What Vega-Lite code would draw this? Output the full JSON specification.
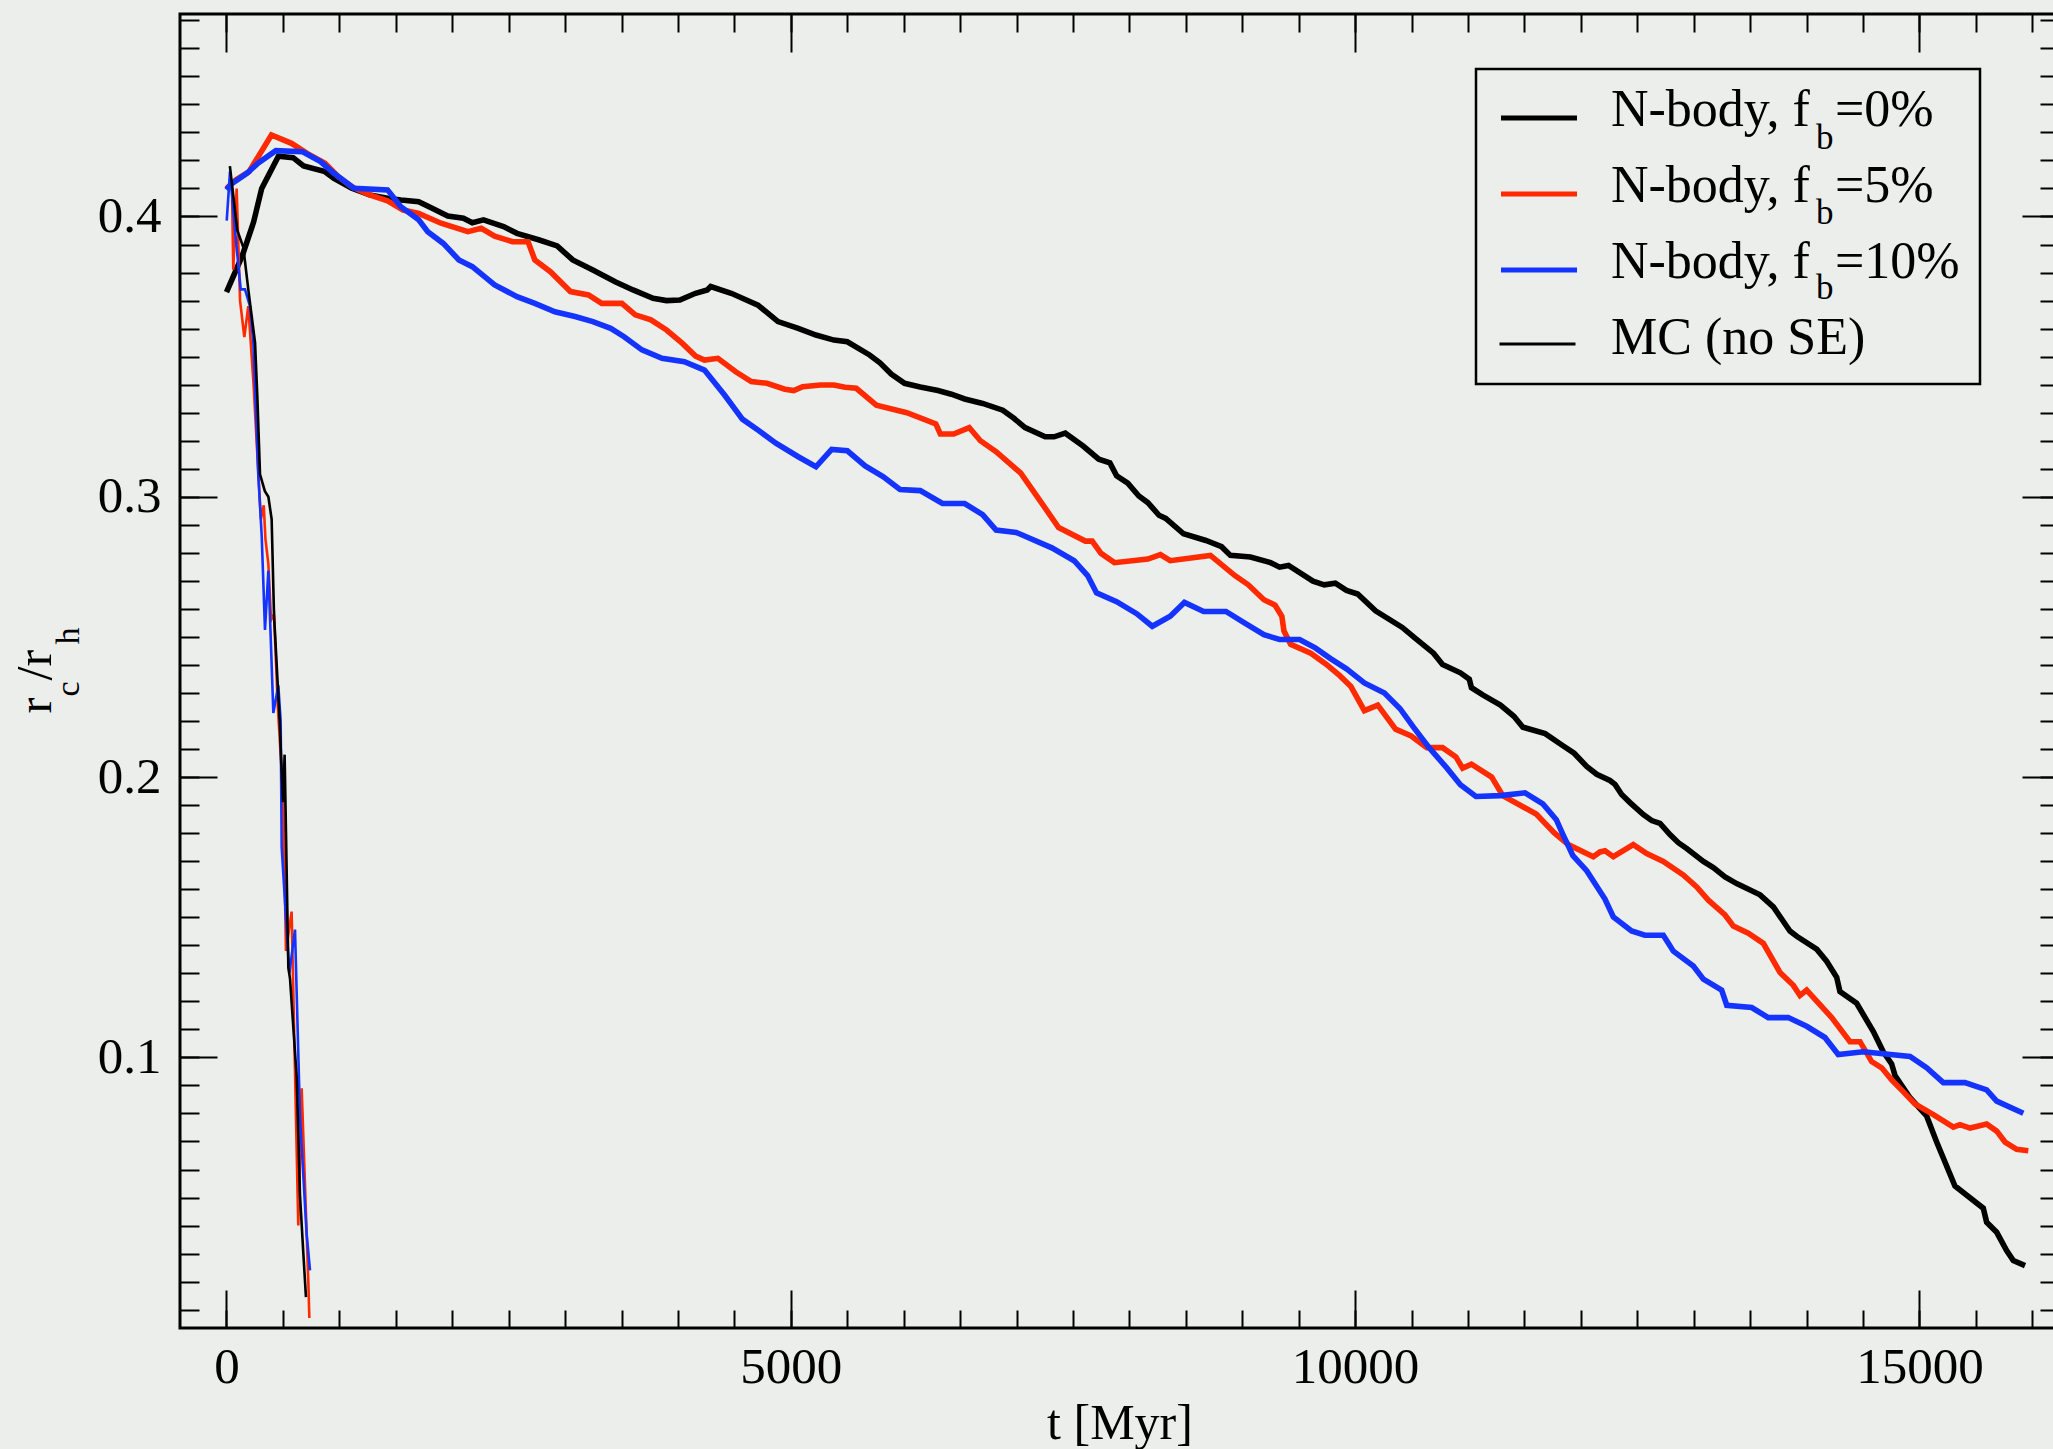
{
  "$schema": "https://vega.github.io/schema/vega-lite/v6.json",
  "width": 1879,
  "height": 1314,
  "autosize": {"type": "none"},
  "padding": {"left": 180, "top": 14, "right": -6, "bottom": 121},
  "background": "#eceeeb",
  "config": {
    "view": {"stroke": "#000000", "strokeWidth": 3},
    "font": "Liberation Serif",
    "axis": {
      "domain": false,
      "grid": false,
      "tickColor": "#000000",
      "tickWidth": 2,
      "labelFont": "Liberation Serif",
      "labelColor": "#000000",
      "titleFont": "Liberation Serif",
      "titleFontWeight": "normal",
      "titleColor": "#000000"
    },
    "legend": {
      "strokeWidth": 2.5,
      "labelFont": "Liberation Serif",
      "labelColor": "#000000",
      "labelLimit": 2000,
      "direction": "vertical"
    }
  },
  "datasets": {
    "runs": [
      {"run": "nb0", "t": 0, "r": 0.373}, {"run": "nb0", "t": 140, "r": 0.386}, {"run": "nb0", "t": 240, "r": 0.398}, {"run": "nb0", "t": 312, "r": 0.41}, {"run": "nb0", "t": 460, "r": 0.4215}, {"run": "nb0", "t": 590, "r": 0.421}, {"run": "nb0", "t": 683, "r": 0.418}, {"run": "nb0", "t": 873, "r": 0.416}, {"run": "nb0", "t": 952, "r": 0.4136}, {"run": "nb0", "t": 1110, "r": 0.4101}, {"run": "nb0", "t": 1268, "r": 0.4077}, {"run": "nb0", "t": 1427, "r": 0.4065}, {"run": "nb0", "t": 1545, "r": 0.4059}, {"run": "nb0", "t": 1703, "r": 0.4053}, {"run": "nb0", "t": 1822, "r": 0.4029}, {"run": "nb0", "t": 1961, "r": 0.4002}, {"run": "nb0", "t": 2099, "r": 0.3994}, {"run": "nb0", "t": 2178, "r": 0.3978}, {"run": "nb0", "t": 2277, "r": 0.3988}, {"run": "nb0", "t": 2455, "r": 0.3964}, {"run": "nb0", "t": 2574, "r": 0.394}, {"run": "nb0", "t": 2772, "r": 0.3916}, {"run": "nb0", "t": 2930, "r": 0.3895}, {"run": "nb0", "t": 3068, "r": 0.3845}, {"run": "nb0", "t": 3246, "r": 0.3809}, {"run": "nb0", "t": 3444, "r": 0.3767}, {"run": "nb0", "t": 3602, "r": 0.3738}, {"run": "nb0", "t": 3780, "r": 0.3708}, {"run": "nb0", "t": 3899, "r": 0.37}, {"run": "nb0", "t": 4017, "r": 0.3702}, {"run": "nb0", "t": 4156, "r": 0.3726}, {"run": "nb0", "t": 4260, "r": 0.3738}, {"run": "nb0", "t": 4290, "r": 0.375}, {"run": "nb0", "t": 4472, "r": 0.3726}, {"run": "nb0", "t": 4709, "r": 0.3684}, {"run": "nb0", "t": 4887, "r": 0.3625}, {"run": "nb0", "t": 5066, "r": 0.3601}, {"run": "nb0", "t": 5223, "r": 0.3577}, {"run": "nb0", "t": 5382, "r": 0.3559}, {"run": "nb0", "t": 5501, "r": 0.3553}, {"run": "nb0", "t": 5698, "r": 0.3506}, {"run": "nb0", "t": 5790, "r": 0.3478}, {"run": "nb0", "t": 5890, "r": 0.3438}, {"run": "nb0", "t": 6008, "r": 0.3405}, {"run": "nb0", "t": 6147, "r": 0.3392}, {"run": "nb0", "t": 6304, "r": 0.3379}, {"run": "nb0", "t": 6423, "r": 0.3366}, {"run": "nb0", "t": 6541, "r": 0.3349}, {"run": "nb0", "t": 6700, "r": 0.3333}, {"run": "nb0", "t": 6878, "r": 0.3309}, {"run": "nb0", "t": 6977, "r": 0.328}, {"run": "nb0", "t": 7076, "r": 0.3247}, {"run": "nb0", "t": 7254, "r": 0.3214}, {"run": "nb0", "t": 7333, "r": 0.3214}, {"run": "nb0", "t": 7432, "r": 0.3227}, {"run": "nb0", "t": 7590, "r": 0.3181}, {"run": "nb0", "t": 7729, "r": 0.3134}, {"run": "nb0", "t": 7827, "r": 0.3121}, {"run": "nb0", "t": 7887, "r": 0.3075}, {"run": "nb0", "t": 7986, "r": 0.3049}, {"run": "nb0", "t": 8084, "r": 0.3003}, {"run": "nb0", "t": 8164, "r": 0.2979}, {"run": "nb0", "t": 8263, "r": 0.2934}, {"run": "nb0", "t": 8322, "r": 0.2923}, {"run": "nb0", "t": 8480, "r": 0.2868}, {"run": "nb0", "t": 8678, "r": 0.2844}, {"run": "nb0", "t": 8817, "r": 0.2822}, {"run": "nb0", "t": 8895, "r": 0.2791}, {"run": "nb0", "t": 9073, "r": 0.2785}, {"run": "nb0", "t": 9251, "r": 0.2765}, {"run": "nb0", "t": 9331, "r": 0.2749}, {"run": "nb0", "t": 9410, "r": 0.2755}, {"run": "nb0", "t": 9627, "r": 0.2699}, {"run": "nb0", "t": 9726, "r": 0.2686}, {"run": "nb0", "t": 9825, "r": 0.2692}, {"run": "nb0", "t": 9924, "r": 0.2666}, {"run": "nb0", "t": 10023, "r": 0.2653}, {"run": "nb0", "t": 10181, "r": 0.2593}, {"run": "nb0", "t": 10418, "r": 0.2534}, {"run": "nb0", "t": 10537, "r": 0.2494}, {"run": "nb0", "t": 10695, "r": 0.2442}, {"run": "nb0", "t": 10775, "r": 0.2402}, {"run": "nb0", "t": 10933, "r": 0.2372}, {"run": "nb0", "t": 11012, "r": 0.2349}, {"run": "nb0", "t": 11031, "r": 0.2319}, {"run": "nb0", "t": 11131, "r": 0.2293}, {"run": "nb0", "t": 11288, "r": 0.2257}, {"run": "nb0", "t": 11407, "r": 0.2217}, {"run": "nb0", "t": 11487, "r": 0.2178}, {"run": "nb0", "t": 11684, "r": 0.2155}, {"run": "nb0", "t": 11842, "r": 0.2112}, {"run": "nb0", "t": 11941, "r": 0.2085}, {"run": "nb0", "t": 12052, "r": 0.2038}, {"run": "nb0", "t": 12141, "r": 0.201}, {"run": "nb0", "t": 12258, "r": 0.1988}, {"run": "nb0", "t": 12303, "r": 0.1974}, {"run": "nb0", "t": 12362, "r": 0.1938}, {"run": "nb0", "t": 12436, "r": 0.1909}, {"run": "nb0", "t": 12554, "r": 0.1866}, {"run": "nb0", "t": 12628, "r": 0.1845}, {"run": "nb0", "t": 12702, "r": 0.1835}, {"run": "nb0", "t": 12790, "r": 0.1795}, {"run": "nb0", "t": 12864, "r": 0.1766}, {"run": "nb0", "t": 12938, "r": 0.1745}, {"run": "nb0", "t": 13086, "r": 0.1699}, {"run": "nb0", "t": 13174, "r": 0.1677}, {"run": "nb0", "t": 13278, "r": 0.1644}, {"run": "nb0", "t": 13381, "r": 0.162}, {"run": "nb0", "t": 13588, "r": 0.158}, {"run": "nb0", "t": 13706, "r": 0.1537}, {"run": "nb0", "t": 13853, "r": 0.1451}, {"run": "nb0", "t": 13913, "r": 0.1432}, {"run": "nb0", "t": 14090, "r": 0.1386}, {"run": "nb0", "t": 14178, "r": 0.1343}, {"run": "nb0", "t": 14267, "r": 0.1286}, {"run": "nb0", "t": 14296, "r": 0.1235}, {"run": "nb0", "t": 14444, "r": 0.1193}, {"run": "nb0", "t": 14592, "r": 0.1092}, {"run": "nb0", "t": 14680, "r": 0.102}, {"run": "nb0", "t": 14754, "r": 0.0977}, {"run": "nb0", "t": 14784, "r": 0.0935}, {"run": "nb0", "t": 14917, "r": 0.0856}, {"run": "nb0", "t": 15064, "r": 0.0791}, {"run": "nb0", "t": 15153, "r": 0.0698}, {"run": "nb0", "t": 15315, "r": 0.0541}, {"run": "nb0", "t": 15566, "r": 0.0462}, {"run": "nb0", "t": 15596, "r": 0.0412}, {"run": "nb0", "t": 15685, "r": 0.0376}, {"run": "nb0", "t": 15773, "r": 0.0311}, {"run": "nb0", "t": 15832, "r": 0.0275}, {"run": "nb0", "t": 15936, "r": 0.0257},

      {"run": "nb5", "t": 0, "r": 0.41}, {"run": "nb5", "t": 82, "r": 0.413}, {"run": "nb5", "t": 200, "r": 0.416}, {"run": "nb5", "t": 398, "r": 0.4291}, {"run": "nb5", "t": 576, "r": 0.4261}, {"run": "nb5", "t": 714, "r": 0.4225}, {"run": "nb5", "t": 873, "r": 0.419}, {"run": "nb5", "t": 991, "r": 0.4142}, {"run": "nb5", "t": 1110, "r": 0.4106}, {"run": "nb5", "t": 1268, "r": 0.4077}, {"run": "nb5", "t": 1427, "r": 0.4056}, {"run": "nb5", "t": 1565, "r": 0.4023}, {"run": "nb5", "t": 1703, "r": 0.4011}, {"run": "nb5", "t": 1901, "r": 0.3976}, {"run": "nb5", "t": 2139, "r": 0.3946}, {"run": "nb5", "t": 2257, "r": 0.3958}, {"run": "nb5", "t": 2376, "r": 0.393}, {"run": "nb5", "t": 2534, "r": 0.391}, {"run": "nb5", "t": 2672, "r": 0.391}, {"run": "nb5", "t": 2732, "r": 0.3845}, {"run": "nb5", "t": 2870, "r": 0.3803}, {"run": "nb5", "t": 3048, "r": 0.3732}, {"run": "nb5", "t": 3207, "r": 0.372}, {"run": "nb5", "t": 3325, "r": 0.369}, {"run": "nb5", "t": 3503, "r": 0.369}, {"run": "nb5", "t": 3622, "r": 0.3649}, {"run": "nb5", "t": 3760, "r": 0.3631}, {"run": "nb5", "t": 3899, "r": 0.3595}, {"run": "nb5", "t": 4037, "r": 0.3548}, {"run": "nb5", "t": 4156, "r": 0.3502}, {"run": "nb5", "t": 4235, "r": 0.3488}, {"run": "nb5", "t": 4354, "r": 0.3494}, {"run": "nb5", "t": 4512, "r": 0.3446}, {"run": "nb5", "t": 4650, "r": 0.3411}, {"run": "nb5", "t": 4789, "r": 0.3405}, {"run": "nb5", "t": 4947, "r": 0.3384}, {"run": "nb5", "t": 5026, "r": 0.3379}, {"run": "nb5", "t": 5105, "r": 0.3393}, {"run": "nb5", "t": 5263, "r": 0.3399}, {"run": "nb5", "t": 5382, "r": 0.3399}, {"run": "nb5", "t": 5481, "r": 0.3391}, {"run": "nb5", "t": 5580, "r": 0.3387}, {"run": "nb5", "t": 5758, "r": 0.3327}, {"run": "nb5", "t": 6028, "r": 0.33}, {"run": "nb5", "t": 6285, "r": 0.326}, {"run": "nb5", "t": 6325, "r": 0.3224}, {"run": "nb5", "t": 6443, "r": 0.3224}, {"run": "nb5", "t": 6581, "r": 0.3247}, {"run": "nb5", "t": 6680, "r": 0.32}, {"run": "nb5", "t": 6819, "r": 0.3161}, {"run": "nb5", "t": 7036, "r": 0.3085}, {"run": "nb5", "t": 7214, "r": 0.2983}, {"run": "nb5", "t": 7373, "r": 0.289}, {"run": "nb5", "t": 7610, "r": 0.2842}, {"run": "nb5", "t": 7670, "r": 0.2842}, {"run": "nb5", "t": 7749, "r": 0.2798}, {"run": "nb5", "t": 7867, "r": 0.2765}, {"run": "nb5", "t": 8164, "r": 0.2778}, {"run": "nb5", "t": 8275, "r": 0.2794}, {"run": "nb5", "t": 8362, "r": 0.2772}, {"run": "nb5", "t": 8718, "r": 0.2791}, {"run": "nb5", "t": 8935, "r": 0.2719}, {"run": "nb5", "t": 9054, "r": 0.2686}, {"run": "nb5", "t": 9192, "r": 0.2633}, {"run": "nb5", "t": 9291, "r": 0.2613}, {"run": "nb5", "t": 9351, "r": 0.2574}, {"run": "nb5", "t": 9370, "r": 0.2521}, {"run": "nb5", "t": 9429, "r": 0.2474}, {"run": "nb5", "t": 9607, "r": 0.2442}, {"run": "nb5", "t": 9746, "r": 0.2402}, {"run": "nb5", "t": 9864, "r": 0.2362}, {"run": "nb5", "t": 9963, "r": 0.2323}, {"run": "nb5", "t": 10082, "r": 0.2237}, {"run": "nb5", "t": 10201, "r": 0.2257}, {"run": "nb5", "t": 10359, "r": 0.2171}, {"run": "nb5", "t": 10497, "r": 0.2147}, {"run": "nb5", "t": 10636, "r": 0.2105}, {"run": "nb5", "t": 10775, "r": 0.2105}, {"run": "nb5", "t": 10893, "r": 0.2072}, {"run": "nb5", "t": 10953, "r": 0.2032}, {"run": "nb5", "t": 11031, "r": 0.2046}, {"run": "nb5", "t": 11210, "r": 0.2}, {"run": "nb5", "t": 11309, "r": 0.1934}, {"run": "nb5", "t": 11487, "r": 0.1894}, {"run": "nb5", "t": 11605, "r": 0.1868}, {"run": "nb5", "t": 11763, "r": 0.1802}, {"run": "nb5", "t": 11889, "r": 0.1759}, {"run": "nb5", "t": 12111, "r": 0.1716}, {"run": "nb5", "t": 12170, "r": 0.1733}, {"run": "nb5", "t": 12214, "r": 0.1737}, {"run": "nb5", "t": 12288, "r": 0.1716}, {"run": "nb5", "t": 12465, "r": 0.1759}, {"run": "nb5", "t": 12584, "r": 0.1727}, {"run": "nb5", "t": 12731, "r": 0.1699}, {"run": "nb5", "t": 12908, "r": 0.1651}, {"run": "nb5", "t": 13027, "r": 0.1608}, {"run": "nb5", "t": 13130, "r": 0.1561}, {"run": "nb5", "t": 13278, "r": 0.1508}, {"run": "nb5", "t": 13351, "r": 0.1469}, {"run": "nb5", "t": 13484, "r": 0.1443}, {"run": "nb5", "t": 13617, "r": 0.1407}, {"run": "nb5", "t": 13765, "r": 0.1303}, {"run": "nb5", "t": 13883, "r": 0.1257}, {"run": "nb5", "t": 13942, "r": 0.1221}, {"run": "nb5", "t": 14001, "r": 0.124}, {"run": "nb5", "t": 14223, "r": 0.1142}, {"run": "nb5", "t": 14385, "r": 0.1056}, {"run": "nb5", "t": 14474, "r": 0.1056}, {"run": "nb5", "t": 14577, "r": 0.0985}, {"run": "nb5", "t": 14666, "r": 0.0963}, {"run": "nb5", "t": 14754, "r": 0.092}, {"run": "nb5", "t": 14858, "r": 0.0877}, {"run": "nb5", "t": 14961, "r": 0.0834}, {"run": "nb5", "t": 15124, "r": 0.0796}, {"run": "nb5", "t": 15301, "r": 0.0751}, {"run": "nb5", "t": 15360, "r": 0.076}, {"run": "nb5", "t": 15449, "r": 0.0748}, {"run": "nb5", "t": 15596, "r": 0.0762}, {"run": "nb5", "t": 15685, "r": 0.0737}, {"run": "nb5", "t": 15759, "r": 0.0698}, {"run": "nb5", "t": 15862, "r": 0.0672}, {"run": "nb5", "t": 15965, "r": 0.0667},

      {"run": "nb10", "t": 0, "r": 0.4095}, {"run": "nb10", "t": 42, "r": 0.4116}, {"run": "nb10", "t": 181, "r": 0.4154}, {"run": "nb10", "t": 279, "r": 0.419}, {"run": "nb10", "t": 437, "r": 0.4235}, {"run": "nb10", "t": 675, "r": 0.4231}, {"run": "nb10", "t": 833, "r": 0.4196}, {"run": "nb10", "t": 952, "r": 0.4154}, {"run": "nb10", "t": 1130, "r": 0.4101}, {"run": "nb10", "t": 1427, "r": 0.4095}, {"run": "nb10", "t": 1545, "r": 0.4035}, {"run": "nb10", "t": 1703, "r": 0.3988}, {"run": "nb10", "t": 1783, "r": 0.3946}, {"run": "nb10", "t": 1921, "r": 0.3904}, {"run": "nb10", "t": 2059, "r": 0.3845}, {"run": "nb10", "t": 2178, "r": 0.3821}, {"run": "nb10", "t": 2376, "r": 0.3756}, {"run": "nb10", "t": 2574, "r": 0.3714}, {"run": "nb10", "t": 2732, "r": 0.369}, {"run": "nb10", "t": 2910, "r": 0.366}, {"run": "nb10", "t": 3088, "r": 0.3643}, {"run": "nb10", "t": 3246, "r": 0.3625}, {"run": "nb10", "t": 3404, "r": 0.3601}, {"run": "nb10", "t": 3523, "r": 0.3571}, {"run": "nb10", "t": 3681, "r": 0.3524}, {"run": "nb10", "t": 3859, "r": 0.3494}, {"run": "nb10", "t": 4057, "r": 0.3482}, {"run": "nb10", "t": 4235, "r": 0.3452}, {"run": "nb10", "t": 4413, "r": 0.3363}, {"run": "nb10", "t": 4571, "r": 0.3277}, {"run": "nb10", "t": 4709, "r": 0.3238}, {"run": "nb10", "t": 4868, "r": 0.3191}, {"run": "nb10", "t": 5066, "r": 0.3143}, {"run": "nb10", "t": 5223, "r": 0.3107}, {"run": "nb10", "t": 5362, "r": 0.3169}, {"run": "nb10", "t": 5501, "r": 0.3164}, {"run": "nb10", "t": 5659, "r": 0.311}, {"run": "nb10", "t": 5817, "r": 0.3072}, {"run": "nb10", "t": 5968, "r": 0.3026}, {"run": "nb10", "t": 6147, "r": 0.3022}, {"run": "nb10", "t": 6344, "r": 0.2976}, {"run": "nb10", "t": 6541, "r": 0.2976}, {"run": "nb10", "t": 6700, "r": 0.2936}, {"run": "nb10", "t": 6819, "r": 0.2881}, {"run": "nb10", "t": 6997, "r": 0.2873}, {"run": "nb10", "t": 7313, "r": 0.2818}, {"run": "nb10", "t": 7511, "r": 0.2772}, {"run": "nb10", "t": 7630, "r": 0.2719}, {"run": "nb10", "t": 7709, "r": 0.2657}, {"run": "nb10", "t": 7887, "r": 0.2626}, {"run": "nb10", "t": 8065, "r": 0.2583}, {"run": "nb10", "t": 8203, "r": 0.2538}, {"run": "nb10", "t": 8362, "r": 0.2574}, {"run": "nb10", "t": 8488, "r": 0.2623}, {"run": "nb10", "t": 8658, "r": 0.2591}, {"run": "nb10", "t": 8856, "r": 0.2591}, {"run": "nb10", "t": 9034, "r": 0.2547}, {"run": "nb10", "t": 9192, "r": 0.2508}, {"run": "nb10", "t": 9331, "r": 0.2491}, {"run": "nb10", "t": 9508, "r": 0.2491}, {"run": "nb10", "t": 9647, "r": 0.2461}, {"run": "nb10", "t": 9786, "r": 0.2422}, {"run": "nb10", "t": 9924, "r": 0.2386}, {"run": "nb10", "t": 10082, "r": 0.2336}, {"run": "nb10", "t": 10260, "r": 0.23}, {"run": "nb10", "t": 10399, "r": 0.2244}, {"run": "nb10", "t": 10517, "r": 0.2178}, {"run": "nb10", "t": 10656, "r": 0.2105}, {"run": "nb10", "t": 10814, "r": 0.2032}, {"run": "nb10", "t": 10933, "r": 0.1973}, {"run": "nb10", "t": 11071, "r": 0.1931}, {"run": "nb10", "t": 11288, "r": 0.1934}, {"run": "nb10", "t": 11506, "r": 0.1944}, {"run": "nb10", "t": 11664, "r": 0.1904}, {"run": "nb10", "t": 11783, "r": 0.1848}, {"run": "nb10", "t": 11842, "r": 0.1795}, {"run": "nb10", "t": 11930, "r": 0.172}, {"run": "nb10", "t": 12052, "r": 0.1666}, {"run": "nb10", "t": 12214, "r": 0.1565}, {"run": "nb10", "t": 12288, "r": 0.1501}, {"run": "nb10", "t": 12450, "r": 0.1451}, {"run": "nb10", "t": 12568, "r": 0.1436}, {"run": "nb10", "t": 12731, "r": 0.1436}, {"run": "nb10", "t": 12820, "r": 0.1379}, {"run": "nb10", "t": 12997, "r": 0.1326}, {"run": "nb10", "t": 13086, "r": 0.1279}, {"run": "nb10", "t": 13248, "r": 0.124}, {"run": "nb10", "t": 13293, "r": 0.1186}, {"run": "nb10", "t": 13514, "r": 0.1178}, {"run": "nb10", "t": 13661, "r": 0.1142}, {"run": "nb10", "t": 13838, "r": 0.1142}, {"run": "nb10", "t": 14001, "r": 0.1111}, {"run": "nb10", "t": 14163, "r": 0.1071}, {"run": "nb10", "t": 14281, "r": 0.101}, {"run": "nb10", "t": 14503, "r": 0.102}, {"run": "nb10", "t": 14917, "r": 0.1003}, {"run": "nb10", "t": 15064, "r": 0.0963}, {"run": "nb10", "t": 15212, "r": 0.091}, {"run": "nb10", "t": 15404, "r": 0.091}, {"run": "nb10", "t": 15596, "r": 0.0884}, {"run": "nb10", "t": 15685, "r": 0.0844}, {"run": "nb10", "t": 15921, "r": 0.0801},

      {"run": "mc5", "t": 50, "r": 0.406}, {"run": "mc5", "t": 60, "r": 0.381}, {"run": "mc5", "t": 90, "r": 0.41}, {"run": "mc5", "t": 120, "r": 0.37}, {"run": "mc5", "t": 158, "r": 0.357}, {"run": "mc5", "t": 193, "r": 0.368}, {"run": "mc5", "t": 240, "r": 0.34}, {"run": "mc5", "t": 280, "r": 0.31}, {"run": "mc5", "t": 305, "r": 0.292}, {"run": "mc5", "t": 330, "r": 0.297}, {"run": "mc5", "t": 345, "r": 0.285}, {"run": "mc5", "t": 371, "r": 0.276}, {"run": "mc5", "t": 395, "r": 0.256}, {"run": "mc5", "t": 421, "r": 0.258}, {"run": "mc5", "t": 455, "r": 0.225}, {"run": "mc5", "t": 503, "r": 0.192}, {"run": "mc5", "t": 527, "r": 0.138}, {"run": "mc5", "t": 577, "r": 0.152}, {"run": "mc5", "t": 636, "r": 0.04}, {"run": "mc5", "t": 666, "r": 0.089}, {"run": "mc5", "t": 725, "r": 0.02}, {"run": "mc5", "t": 734, "r": 0.007},

      {"run": "mc10", "t": 2, "r": 0.3985}, {"run": "mc10", "t": 31, "r": 0.416}, {"run": "mc10", "t": 75, "r": 0.395}, {"run": "mc10", "t": 126, "r": 0.374}, {"run": "mc10", "t": 164, "r": 0.374}, {"run": "mc10", "t": 208, "r": 0.368}, {"run": "mc10", "t": 238, "r": 0.355}, {"run": "mc10", "t": 282, "r": 0.3075}, {"run": "mc10", "t": 312, "r": 0.286}, {"run": "mc10", "t": 341, "r": 0.2525}, {"run": "mc10", "t": 371, "r": 0.2736}, {"run": "mc10", "t": 415, "r": 0.2229}, {"run": "mc10", "t": 459, "r": 0.2327}, {"run": "mc10", "t": 480, "r": 0.22}, {"run": "mc10", "t": 489, "r": 0.175}, {"run": "mc10", "t": 548, "r": 0.136}, {"run": "mc10", "t": 557, "r": 0.13}, {"run": "mc10", "t": 607, "r": 0.1456}, {"run": "mc10", "t": 651, "r": 0.079}, {"run": "mc10", "t": 710, "r": 0.037}, {"run": "mc10", "t": 740, "r": 0.024},

      {"run": "mc0", "t": 30, "r": 0.418}, {"run": "mc0", "t": 96, "r": 0.395}, {"run": "mc0", "t": 149, "r": 0.389}, {"run": "mc0", "t": 193, "r": 0.374}, {"run": "mc0", "t": 253, "r": 0.355}, {"run": "mc0", "t": 273, "r": 0.336}, {"run": "mc0", "t": 297, "r": 0.308}, {"run": "mc0", "t": 340, "r": 0.302}, {"run": "mc0", "t": 371, "r": 0.3}, {"run": "mc0", "t": 400, "r": 0.292}, {"run": "mc0", "t": 421, "r": 0.258}, {"run": "mc0", "t": 470, "r": 0.221}, {"run": "mc0", "t": 500, "r": 0.191}, {"run": "mc0", "t": 515, "r": 0.208}, {"run": "mc0", "t": 548, "r": 0.132}, {"run": "mc0", "t": 563, "r": 0.128}, {"run": "mc0", "t": 622, "r": 0.093}, {"run": "mc0", "t": 651, "r": 0.051}, {"run": "mc0", "t": 681, "r": 0.03}, {"run": "mc0", "t": 704, "r": 0.0145}
    ]
  },
  "data": {"name": "runs"},
  "layer": [
    {
      "transform": [{"filter": "indexof(datum.run, 'nb') === 0"}],
      "mark": {"type": "line"},
      "encoding": {
        "x": {
          "field": "t", "type": "quantitative",
          "scale": {"domain": [-412, 16237], "nice": false, "zero": false},
          "axis": {
            "orient": "bottom",
            "values": [0, 5000, 10000, 15000],
            "format": "d",
            "tickSize": -38,
            "labelFontSize": 51,
            "labelPadding": 52,
            "title": "t [Myr]",
            "titleFontSize": 50,
            "titlePadding": 6
          }
        },
        "y": {
          "field": "r", "type": "quantitative",
          "scale": {"domain": [0.00346, 0.47224], "nice": false, "zero": false},
          "axis": {
            "orient": "left",
            "values": [0.1, 0.2, 0.3, 0.4],
            "format": ".1f",
            "tickSize": -37,
            "labelFontSize": 51,
            "labelPadding": 56,
            "title": "r",
            "titleFontSize": 48,
            "titleAngle": -90,
            "titleAlign": "left",
            "titleBaseline": "alphabetic",
            "titleX": -130,
            "titleY": 699
          }
        },
        "strokeWidth": {"value": 5.6},
        "color": {
          "field": "run", "type": "nominal",
          "scale": {
            "domain": ["nb0", "nb5", "nb10"],
            "range": ["#000000", "#ff2a00", "#1433ff"]
          },
          "legend": {
            "orient": "none",
            "legendX": 1318,
            "legendY": 83,
            "values": ["nb0", "nb5", "nb10"],
            "title": null,
            "symbolType": "stroke",
            "symbolSize": 5776,
            "symbolStrokeWidth": 5.2,
            "labelExpr": "''",
            "clipHeight": 42,
            "rowPadding": 34,
            "padding": 0,
            "labelOffset": 0
          }
        }
      }
    },
    {
      "transform": [{"filter": "indexof(datum.run, 'mc') === 0"}],
      "mark": {"type": "line"},
      "encoding": {
        "x": {"field": "t", "type": "quantitative", "axis": null},
        "y": {"field": "r", "type": "quantitative", "axis": null},
        "strokeWidth": {"value": 2.6},
        "color": {
          "field": "run", "type": "nominal",
          "scale": {
            "domain": ["mc0", "mc5", "mc10"],
            "range": ["#000000", "#ff2a00", "#1433ff"]
          },
          "legend": {
            "orient": "none",
            "legendX": 1318,
            "legendY": 309,
            "values": ["mc0"],
            "title": null,
            "symbolType": "stroke",
            "symbolSize": 5776,
            "symbolStrokeWidth": 2.8,
            "labelExpr": "''",
            "clipHeight": 42,
            "padding": 0,
            "labelOffset": 0
          }
        }
      }
    },
    {
      "mark": {"type": "line", "opacity": 0},
      "encoding": {
        "x": {
          "field": "t", "type": "quantitative",
          "axis": {
            "orient": "bottom",
            "values": [0, 500, 1000, 1500, 2000, 2500, 3000, 3500, 4000, 4500, 5000, 5500, 6000, 6500, 7000, 7500, 8000, 8500, 9000, 9500, 10000, 10500, 11000, 11500, 12000, 12500, 13000, 13500, 14000, 14500, 15000, 15500, 16000],
            "tickSize": -18,
            "labels": false,
            "title": null
          }
        },
        "y": {
          "field": "r", "type": "quantitative",
          "axis": {
            "orient": "left",
            "values": [0.01, 0.02, 0.03, 0.04, 0.05, 0.06, 0.07, 0.08, 0.09, 0.1, 0.11, 0.12, 0.13, 0.14, 0.15, 0.16, 0.17, 0.18, 0.19, 0.2, 0.21, 0.22, 0.23, 0.24, 0.25, 0.26, 0.27, 0.28, 0.29, 0.3, 0.31, 0.32, 0.33, 0.34, 0.35, 0.36, 0.37, 0.38, 0.39, 0.4, 0.41, 0.42, 0.43, 0.44, 0.45, 0.46, 0.47],
            "tickSize": -19,
            "labels": false,
            "title": "c",
            "titleFontSize": 34,
            "titleAngle": -90,
            "titleAlign": "left",
            "titleBaseline": "alphabetic",
            "titleX": -102,
            "titleY": 682
          }
        },
        "color": {
          "field": "run", "type": "nominal",
          "legend": {
            "orient": "none",
            "legendX": 1601,
            "legendY": 114,
            "values": ["nb0", "nb5", "nb10", "mc0"],
            "title": null,
            "symbolType": "circle",
            "symbolSize": 1,
            "symbolOpacity": 0,
            "labelExpr": "datum.value == 'mc0' ? '' : 'b'",
            "labelFontSize": 35,
            "labelBaseline": "alphabetic",
            "clipHeight": 42,
            "rowPadding": 26,
            "padding": 0,
            "labelOffset": 0
          }
        }
      }
    },
    {
      "mark": {"type": "line", "opacity": 0},
      "encoding": {
        "x": {
          "field": "t", "type": "quantitative",
          "axis": {
            "orient": "top",
            "values": [0, 5000, 10000, 15000],
            "tickSize": -38,
            "labels": false,
            "title": null
          }
        },
        "y": {
          "field": "r", "type": "quantitative",
          "axis": {
            "orient": "right",
            "values": [0.1, 0.2, 0.3, 0.4],
            "tickSize": -37,
            "labels": false,
            "title": "/r",
            "titleFontSize": 50,
            "titleAngle": -90,
            "titleAlign": "left",
            "titleBaseline": "alphabetic",
            "titleX": -2009,
            "titleY": 666
          }
        },
        "color": {
          "field": "run", "type": "nominal",
          "legend": {
            "orient": "none",
            "legendX": 1379,
            "legendY": 75,
            "values": ["nb0", "nb5", "nb10", "mc0"],
            "title": null,
            "symbolType": "circle",
            "symbolSize": 1,
            "symbolOpacity": 0,
            "labelExpr": "datum.value == 'mc0' ? 'MC (no SE)' : 'N-body, f'",
            "labelFontSize": 52,
            "labelBaseline": "middle",
            "labelOffset": 0,
            "clipHeight": 42,
            "rowPadding": 24,
            "padding": 0
          }
        }
      }
    },
    {
      "mark": {"type": "line", "opacity": 0},
      "encoding": {
        "x": {
          "field": "t", "type": "quantitative",
          "axis": {
            "orient": "top",
            "values": [0, 500, 1000, 1500, 2000, 2500, 3000, 3500, 4000, 4500, 5000, 5500, 6000, 6500, 7000, 7500, 8000, 8500, 9000, 9500, 10000, 10500, 11000, 11500, 12000, 12500, 13000, 13500, 14000, 14500, 15000, 15500, 16000],
            "tickSize": -18,
            "labels": false,
            "title": null
          }
        },
        "y": {
          "field": "r", "type": "quantitative",
          "axis": {
            "orient": "right",
            "values": [0.01, 0.02, 0.03, 0.04, 0.05, 0.06, 0.07, 0.08, 0.09, 0.1, 0.11, 0.12, 0.13, 0.14, 0.15, 0.16, 0.17, 0.18, 0.19, 0.2, 0.21, 0.22, 0.23, 0.24, 0.25, 0.26, 0.27, 0.28, 0.29, 0.3, 0.31, 0.32, 0.33, 0.34, 0.35, 0.36, 0.37, 0.38, 0.39, 0.4, 0.41, 0.42, 0.43, 0.44, 0.45, 0.46, 0.47],
            "tickSize": -19,
            "labels": false,
            "title": "h",
            "titleFontSize": 34,
            "titleAngle": -90,
            "titleAlign": "left",
            "titleBaseline": "alphabetic",
            "titleX": -1981,
            "titleY": 630
          }
        },
        "color": {
          "field": "run", "type": "nominal",
          "legend": {
            "orient": "none",
            "legendX": 1296,
            "legendY": 55,
            "values": ["nb0", "nb5", "nb10", "mc0"],
            "title": null,
            "symbolType": "stroke",
            "symbolSize": 103041,
            "symbolOpacity": 0,
            "labelExpr": "datum.value == 'nb0' ? '=0%' : datum.value == 'nb5' ? '=5%' : datum.value == 'nb10' ? '=10%' : ''",
            "labelFontSize": 52,
            "labelBaseline": "middle",
            "labelOffset": 16,
            "clipHeight": 42,
            "rowPadding": 24,
            "padding": 20,
            "strokeColor": "#000000"
          }
        }
      }
    }
  ],
  "resolve": {
    "axis": {"x": "independent", "y": "independent"},
    "scale": {"color": "independent"},
    "legend": {"color": "independent"}
  }
}
